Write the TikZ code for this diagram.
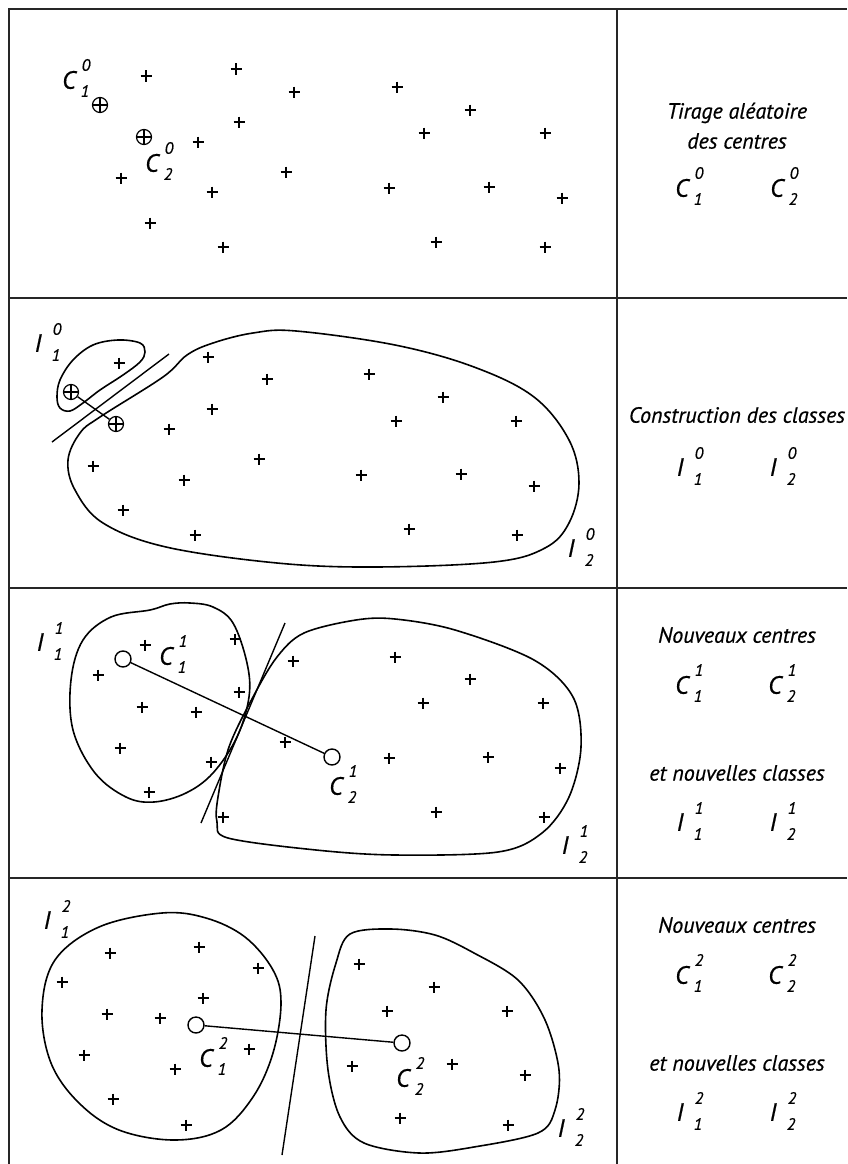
\documentclass[tikz,border=0pt]{standalone}
\usepackage{fontspec}
\setmainfont{PT Sans}[ItalicFeatures={FakeBold=0.6}]
\usetikzlibrary{calc}
\tikzset{
  frame/.style={line width=1.8pt, draw=black!85},
  curve/.style={line width=1.6pt},
  plusmark/.style={line width=1.4pt},
  sepline/.style={line width=1.4pt},
  oplus/.style={circle, draw, line width=1.2pt, minimum size=15pt, inner sep=0pt,
    path picture={\draw[line width=1.1pt] (path picture bounding box.north) -- (path picture bounding box.south)
      (path picture bounding box.west) -- (path picture bounding box.east);}},
  ctr/.style={circle, draw, line width=1.4pt, minimum size=16pt, inner sep=0pt, fill=white},
  letter/.style={inner sep=0pt, font=\itshape\fontsize{25}{25}\selectfont},
  idx/.style={inner sep=0pt, font=\itshape\fontsize{16.5}{16.5}\selectfont},
  txt/.style={inner sep=0pt, font=\itshape\fontsize{22}{24}\selectfont},
}
\newcommand\labC[5]{%
  \node[letter] (#1) at (#2,#3) {C};
  \node[idx] (#1-sup) at ($(#1)+(17,-15)$) {#4};
  \node[idx] (#1-sub) at ($(#1)+(16,11)$) {#5};}
\newcommand\labI[5]{%
  \node[letter] (#1) at (#2,#3) {I};
  \node[idx] (#1-sup) at ($(#1)+(19,-14)$) {#4};
  \node[idx] (#1-sub) at ($(#1)+(18,12)$) {#5};}
\begin{document}
\begin{tikzpicture}[x=1pt,y=-1pt]
\useasboundingbox (0,0) rectangle (847,1164);
% frame
\draw[frame] (9,1164) -- (9,9) -- (847,9);
\draw[frame] (9,298) -- (847,298);
\draw[frame] (9,588) -- (847,588);
\draw[frame] (9,878) -- (847,878);
\draw[frame] (617,9) -- (617,1164);
% pluses
\foreach \px/\py in {146/76,236/69,294/92,397/87,470/110,239/122,424/133,545/133,198/142,121/178,286/172,212/192,389/188,489/187,562/198,150/223,223/247,436/242,545/247,
119/363,208/357,267/379,369/374,443/397,212/409,396/421,516/421,169/429,93/466,259/459,184/480,361/475,461/474,534/486,123/510,195/535,409/529,517/535,
145/645,235/639,98/675,239/692,142/707,196/712,120/748,211/762,149/792,293/661,395/657,470/679,423/703,543/703,285/742,389/758,488/757,560/768,436/812,544/817,223/817,
199/947,110/953,258/968,62/982,203/998,107/1014,160/1018,249/1049,84/1055,175/1069,113/1099,186/1125,359/964,434/987,387/1011,507/1011,352/1066,452/1064,525/1075,400/1118,508/1125}
  {\draw[plusmark] (\px-5.5,\py) -- (\px+5.5,\py) (\px,\py-5.5) -- (\px,\py+5.5);}
% ---------- panel 1
\node[oplus] (p1a) at (100,105) {};
\node[oplus] (p1b) at (144,137) {};
\labC{p1c1}{69}{80}{0}{1}
\labC{p1c2}{152}{163}{0}{2}
% ---------- panel 2
\draw[curve] plot[smooth cycle, tension=0.6] coordinates {(118,340) (140,343) (145,352) (140,362) (123,375) (100,390) (83,403) (70,411) (60,408) (57,397) (60,380) (73,360) (93,345)};
\draw[curve] plot[smooth cycle, tension=0.6] coordinates {(163,377) (187,355) (213,343) (253,333) (296,331) (395,345) (474,367) (534,397) (569,440) (579,483) (569,523) (545,548) (494,562) (375,567) (277,563) (166,547) (103,523) (75,490) (68,460) (80,433) (100,417)};
\coordinate (s2a) at (52,442);
\coordinate (s2b) at (169,354);
\draw[sepline] (s2a) -- (s2b);
\node[oplus] (p2a) at (71,392) {};
\node[oplus] (p2b) at (116,424) {};
\draw[sepline] (p2a) -- (p2b);
\labI{p2i1}{38}{343}{0}{1}
\labI{p2i2}{571}{548}{0}{2}
% ---------- panel 3
\draw[curve] plot[smooth cycle, tension=0.6] coordinates {(190,603) (213,607) (233,623) (247,663) (249,697) (237,737) (213,773) (186,793) (154,802) (126,797) (95,773) (73,730) (71,680) (83,640) (111,617) (150,610) (170,604)};
\draw[curve] plot[smooth cycle, tension=0.55] coordinates {(304,633) (356,620) (395,619) (455,630) (534,660) (573,697) (581,747) (569,797) (542,833) (498,852) (395,855) (316,850) (228,838) (217,822) (218,797) (229,747) (253,697) (277,657)};
\coordinate (s3a) at (285,623);
\coordinate (s3b) at (201,823);
\draw[sepline] (s3a) -- (s3b);
\node[ctr] (p3a) at (123,659) {};
\node[ctr] (p3b) at (332,757) {};
\draw[sepline] (p3a) -- (p3b);
\labI{p3i1}{40}{642}{1}{1}
\labC{p3c1}{166}{656}{1}{1}
\labC{p3c2}{336}{786}{1}{2}
\labI{p3i2}{565}{845}{1}{2}
% ---------- panel 4
\draw[curve] plot[smooth cycle, tension=0.6] coordinates {(162,913) (206,918) (245,937) (273,970) (281,1003) (273,1053) (253,1097) (221,1130) (174,1140) (119,1130) (79,1103) (51,1063) (42,1010) (55,960) (99,927)};
\draw[curve] plot[smooth cycle, tension=0.55] coordinates {(350,934) (391,929) (435,935) (474,953) (518,980) (545,1020) (559,1070) (555,1110) (538,1133) (474,1147) (419,1153) (364,1143) (340,1117) (328,1070) (326,1010) (336,963)};
\coordinate (s4a) at (315,936);
\coordinate (s4b) at (282,1155);
\draw[sepline] (s4a) -- (s4b);
\node[ctr] (p4a) at (196,1025) {};
\node[ctr] (p4b) at (402,1043) {};
\draw[sepline] (p4a) -- (p4b);
\labI{p4i1}{47}{920}{2}{1}
\labC{p4c1}{206}{1058}{2}{1}
\labC{p4c2}{403}{1078}{2}{2}
\labI{p4i2}{561}{1128}{2}{2}
% ---------- right column
\node[txt] (t1a) at (737,113) {Tirage aléatoire};
\node[txt] (t1b) at (737,141) {des centres};
\labC{r1c1}{682}{188}{0}{1}
\labC{r1c2}{777}{188}{0}{2}
\node[txt] (t2a) at (737,415) {Construction des classes};
\labI{r2i1}{680}{467}{0}{1}
\labI{r2i2}{773}{467}{0}{2}
\node[txt] (t3a) at (737,635) {Nouveaux centres};
\labC{r3c1}{682}{685}{1}{1}
\labC{r3c2}{775}{685}{1}{2}
\node[txt] (t3b) at (737,773) {et nouvelles classes};
\labI{r3i1}{680}{822}{1}{1}
\labI{r3i2}{773}{822}{1}{2}
\node[txt] (t4a) at (737,925) {Nouveaux centres};
\labC{r4c1}{682}{975}{2}{1}
\labC{r4c2}{775}{975}{2}{2}
\node[txt] (t4b) at (737,1063) {et nouvelles classes};
\labI{r4i1}{680}{1112}{2}{1}
\labI{r4i2}{773}{1112}{2}{2}
\end{tikzpicture}
\end{document}
